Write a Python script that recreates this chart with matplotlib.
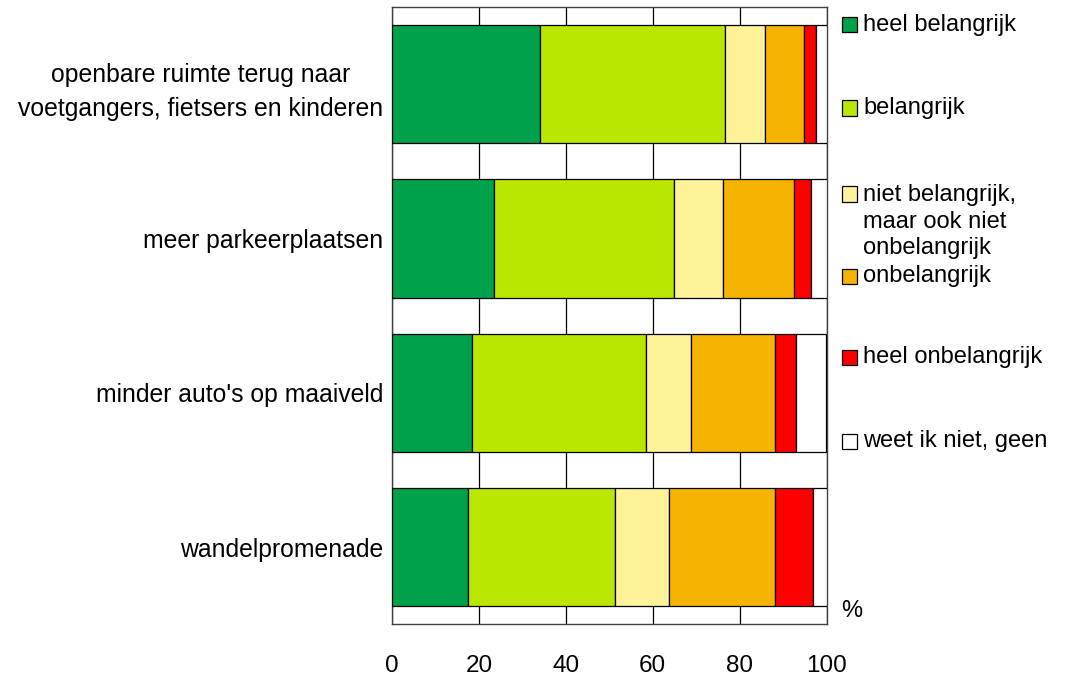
import matplotlib.pyplot as plt
import numpy as np
from matplotlib.patches import Rectangle

plt.rcParams["font.family"] = ["Liberation Sans", "DejaVu Sans"]

# %% data
categories = [
    "openbare ruimte terug naar\nvoetgangers, fietsers en kinderen",
    "meer parkeerplaatsen",
    "minder auto's op maaiveld",
    "wandelpromenade",
]
series_names = [
    "heel belangrijk",
    "belangrijk",
    "niet belangrijk,\nmaar ook niet\nonbelangrijk",
    "onbelangrijk",
    "heel onbelangrijk",
    "weet ik niet, geen",
]
heel_belangrijk = [34.0, 23.4, 18.5, 17.4]
belangrijk = [42.7, 41.5, 40.0, 34.0]
neutraal = [9.2, 11.2, 10.3, 12.4]
onbelangrijk = [8.9, 16.4, 19.3, 24.3]
heel_onbelangrijk = [2.8, 4.0, 4.8, 8.7]
weet_niet = [2.4, 3.5, 7.1, 3.2]
xticks = [0, 20, 40, 60, 80, 100]

colors = ["#00A14B", "#B9E700", "#FFF399", "#F6B400", "#FF0000", "#FFFFFF"]
series = [heel_belangrijk, belangrijk, neutraal, onbelangrijk,
          heel_onbelangrijk, weet_niet]

# %% plot
W, H = 1074, 678
fig = plt.figure(figsize=(W / 100, H / 100), dpi=100)
ax = fig.add_axes([392 / W, 1 - 624.4 / H, (826.5 - 392) / W, (624.4 - 7) / H])

y = np.arange(len(categories))
left = np.zeros(len(categories))
for vals, col in zip(series, colors):
    ax.barh(y, vals, left=left, height=0.767, color=col,
            edgecolor="black", linewidth=0.9, zorder=3)
    left += np.array(vals)

ax.set_xlim(0, 100)
ax.set_ylim(len(categories) - 0.5, -0.5)
ax.set_yticks(y)
ax.set_yticklabels(categories, fontsize=17.8, linespacing=1.55,
                   multialignment="center")
ax.set_xticks(xticks)
ax.set_xticklabels([str(t) for t in xticks], fontsize=17.5)
ax.tick_params(axis="y", length=0, pad=6.5)
ax.tick_params(axis="x", length=0, pad=22)
ax.xaxis.grid(True, color="black", linewidth=0.9, zorder=0)
ax.set_axisbelow(True)
for sp in ax.spines.values():
    sp.set_color("#404040")
    sp.set_linewidth(1.0)

# legend on the right
leg_y = [24.5, 108, 194, 276, 357.5, 441]
for name, col, yy in zip(series_names, colors, leg_y):
    fig.add_artist(Rectangle((842 / W, 1 - (yy + 7.5) / H), 15 / W, 15 / H,
                             transform=fig.transFigure, facecolor=col,
                             edgecolor="black", linewidth=0.9))
    if "\n" in name:
        fig.text(863 / W, 1 - (yy - 10) / H, name, fontsize=17,
                 va="top", ha="left", linespacing=1.27)
    else:
        fig.text(863 / W, 1 - yy / H, name, fontsize=17,
                 va="center", ha="left")

fig.text(852 / W, 1 - 611 / H, "%", fontsize=17, ha="center", va="center")

fig.savefig("out.png", dpi=100)
